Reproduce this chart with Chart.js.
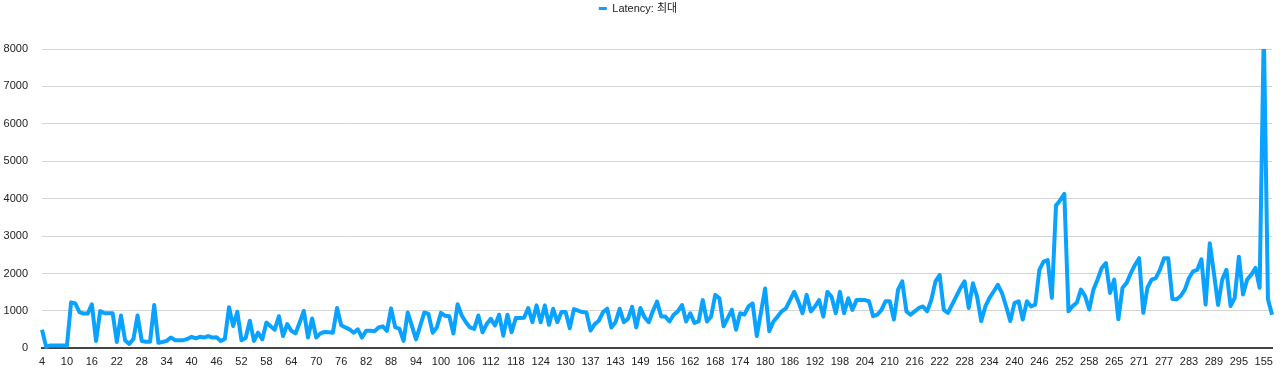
<!DOCTYPE html>
<html lang="ko">
<head>
    <meta charset="UTF-8">
    <title>Latency: 최대</title>
    <script src="https://cdn.jsdelivr.net/npm/chart.js"></script>
    <style>
        html, body { margin: 0; padding: 0; background: #fff; }
        #wrap { position: relative; width: 1280px; height: 369px; }
    </style>
</head>
<body>
<div id="wrap"><canvas id="latencyChart"></canvas></div>
<script>
    // categories along the x axis (row ids, as in the sheet)
    const categories = [
        4, 5, 6, 7, 8, 9, 10, 11, 12, 13, 14, 15, 16, 17, 18, 19, 20, 21, 22, 23, 24, 25, 26, 27, 28, 29, 30,
        31, 32, 33, 34, 35, 36, 37, 38, 39, 40, 41, 42, 43, 44, 45, 46, 47, 48, 49, 50, 51, 52, 53, 54, 55,
        56, 57, 58, 59, 60, 61, 62, 63, 64, 65, 66, 67, 68, 69, 70, 71, 72, 73, 74, 75, 76, 77, 78, 79, 80,
        81, 82, 83, 84, 85, 86, 87, 88, 89, 90, 91, 92, 93, 94, 95, 96, 97, 98, 99, 100, 101, 102, 103, 104,
        105, 106, 107, 108, 109, 110, 111, 112, 113, 114, 115, 116, 117, 118, 119, 120, 121, 122, 123, 124,
        125, 126, 127, 128, 129, 130, 132, 133, 134, 135, 136, 137, 138, 139, 140, 141, 142, 143, 144, 145,
        146, 147, 148, 149, 150, 151, 152, 153, 154, 156, 157, 158, 159, 160, 161, 162, 163, 164, 165, 166,
        167, 168, 169, 170, 171, 172, 173, 174, 175, 176, 177, 178, 179, 180, 181, 182, 183, 184, 185, 186,
        187, 188, 189, 190, 191, 192, 193, 194, 195, 196, 197, 198, 199, 200, 201, 202, 203, 204, 205, 206,
        207, 208, 209, 210, 211, 212, 213, 214, 215, 216, 217, 218, 219, 220, 221, 222, 223, 224, 225, 226,
        227, 228, 229, 230, 231, 232, 233, 234, 235, 236, 237, 238, 239, 240, 241, 242, 243, 244, 245, 246,
        247, 248, 249, 250, 251, 252, 253, 254, 255, 256, 257, 258, 259, 260, 262, 263, 264, 265, 266, 267,
        268, 269, 270, 271, 272, 273, 274, 275, 276, 277, 278, 279, 280, 281, 282, 283, 284, 285, 286, 287,
        288, 289, 290, 291, 292, 293, 294, 295, 296, 297, 298, 299, 300, 155, 301, 302
    ];

    // Latency: 최대 (max latency)
    const latencyMax = [
        500, 40, 80, 80, 80, 80, 70, 1230, 1200, 970, 930, 930, 1180, 200, 1000, 940, 940, 940, 170, 880,
        210, 120, 250, 880, 200, 180, 180, 1160, 150, 170, 200, 290, 220, 220, 220, 250, 310, 270, 310, 290,
        330, 290, 300, 200, 250, 1100, 600, 980, 220, 280, 740, 200, 420, 240, 690, 590, 500, 860, 330, 650,
        470, 400, 690, 1000, 290, 800, 290, 400, 440, 430, 420, 1080, 620, 560, 510, 420, 510, 290, 470, 470,
        460, 560, 590, 470, 1070, 560, 530, 200, 960, 600, 240, 600, 960, 920, 420, 560, 950, 870, 860, 400,
        1180, 880, 700, 560, 520, 880, 430, 650, 790, 610, 900, 340, 900, 430, 810, 810, 820, 1080, 700, 1150,
        700, 1150, 630, 1060, 700, 970, 970, 540, 1050, 1010, 970, 960, 480, 650, 740, 970, 1060, 560, 700, 1060,
        700, 790, 1110, 560, 1080, 830, 700, 1000, 1250, 850, 850, 720, 900, 990, 1160, 720, 940, 680, 720, 1290,
        720, 850, 1430, 1340, 590, 810, 1030, 500, 940, 900, 1120, 1200, 330, 960, 1600, 460, 720, 850, 990, 1070,
        1290, 1510, 1250, 940, 1430, 990, 1120, 1290, 850, 1510, 1380, 940, 1510, 940, 1340, 1030, 1290, 1290, 1290, 1260,
        860, 900, 1030, 1260, 1260, 770, 1570, 1790, 990, 900, 990, 1080, 1120, 990, 1300, 1790, 1960, 1030, 950, 1170,
        1390, 1610, 1790, 1080, 1740, 1390, 730, 1120, 1350, 1520, 1700, 1480, 1120, 730, 1210, 1260, 770, 1260, 1120, 1170,
        2100, 2320, 2360, 1350, 3820, 3960, 4130, 990, 1130, 1220, 1570, 1400, 1040, 1570, 1840, 2150, 2280, 1480, 1840, 780,
        1620, 1750, 2010, 2230, 2410, 950, 1620, 1840, 1880, 2100, 2410, 2410, 1320, 1310, 1400, 1570, 1880, 2060, 2100, 2380,
        1170, 2810, 2010, 1160, 1840, 2100, 1130, 1350, 2450, 1440, 1840, 1970, 2150, 1620, 8500, 1310, 900
    ];

    const seriesName = 'Latency: 최대';
    const yTicks = [0, 1000, 2000, 3000, 4000, 5000, 6000, 7000, 8000];
    const labelEvery = 6;

    Chart.defaults.font.family = "'Liberation Sans', 'Noto Sans CJK KR', sans-serif";
    Chart.defaults.font.size = 11;
    Chart.defaults.color = '#222';

    // leave a gap under the legend like the original
    const legendGap = {
        id: 'legendGap',
        beforeInit(chart) {
            const fit = chart.legend.fit;
            chart.legend.fit = function () {
                fit.call(this);
                this.height += 25;
            };
        }
    };

    const ctx = document.getElementById('latencyChart').getContext('2d');
    const latencyChart = new Chart(ctx, {
        type: 'line',
        data: {
            labels: categories,
            datasets: [{
                label: seriesName,
                data: latencyMax,
                borderColor: 'rgb(10, 162, 255)',
                backgroundColor: 'rgb(10, 162, 255)',
                borderWidth: 4,
                borderJoinStyle: 'round',
                pointRadius: 0,
                pointHoverRadius: 0,
                tension: 0,
                fill: false,
                clip: { left: 3, top: 0, right: 3, bottom: 3 }
            }]
        },
        options: {
            responsive: true,
            maintainAspectRatio: false,
            animation: false,
            layout: { padding: { top: 0, right: 4, bottom: 0, left: 0 } },
            plugins: {
                tooltip: { enabled: false },
                legend: {
                    position: 'top',
                    labels: {
                        boxWidth: 8,
                        boxHeight: 3,
                        padding: 3,
                        color: '#222',
                        font: { size: 11 },
                        generateLabels: chart => {
                            const items = Chart.defaults.plugins.legend.labels.generateLabels(chart);
                            items.forEach(it => { it.lineWidth = 0; });
                            return items;
                        }
                    }
                }
            },
            scales: {
                x: {
                    grid: { display: false, drawTicks: false },
                    border: { display: true, color: '#444', width: 2 },
                    ticks: {
                        autoSkip: false,
                        maxRotation: 0,
                        minRotation: 0,
                        padding: 7,
                        color: '#222',
                        callback: function (value, index) {
                            return index % labelEvery === 0 ? String(this.getLabelForValue(value)) : null;
                        }
                    },
                    afterFit: scale => { scale.height = 17; }
                },
                y: {
                    min: yTicks[0],
                    max: yTicks[yTicks.length - 1],
                    grid: { color: '#d4d4d4', lineWidth: 1, drawTicks: false },
                    border: { display: false },
                    ticks: {
                        stepSize: 1000,
                        padding: 14,
                        color: '#222',
                        callback: v => String(v)
                    },
                    afterFit: scale => { scale.width = 42; }
                }
            }
        },
        plugins: [legendGap]
    });
</script>
</body>
</html>
